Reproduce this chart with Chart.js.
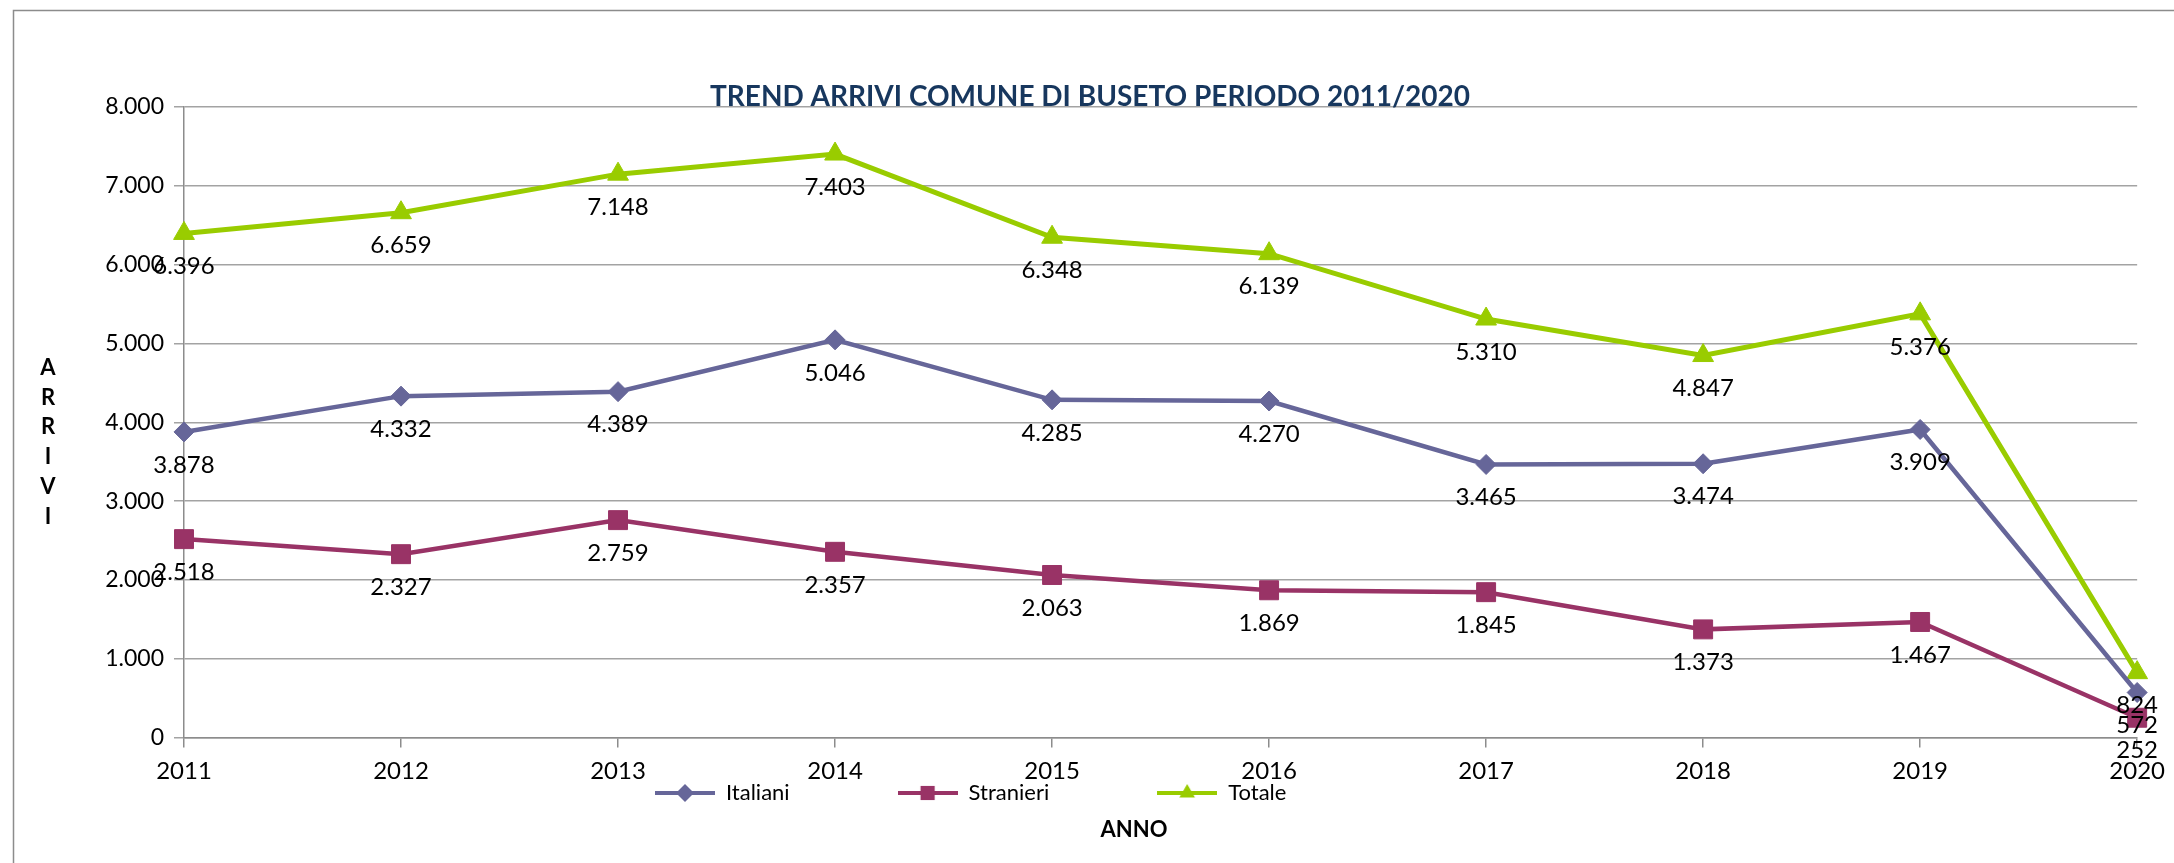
<!DOCTYPE html>
<html>
<head>
<meta charset="utf-8">
<title>Trend arrivi Buseto</title>
<script src="https://cdn.jsdelivr.net/npm/chart.js@4/dist/chart.umd.min.js"></script>
<style>
  html, body { margin: 0; padding: 0; background: #fff; }
  #wrap { width: 2174px; height: 863px; position: relative; }
</style>
</head>
<body>
<div id="wrap"><canvas id="myChart"></canvas></div>
<script>
// dati
var anni = ['2011', '2012', '2013', '2014', '2015', '2016', '2017', '2018', '2019', '2020'];
var italiani = [3878, 4332, 4389, 5046, 4285, 4270, 3465, 3474, 3909, 572];
var stranieri = [2518, 2327, 2759, 2357, 2063, 1869, 1845, 1373, 1467, 252];
var totale = [6396, 6659, 7148, 7403, 6348, 6139, 5310, 4847, 5376, 824];
var yMin = 0, yMax = 8000, yStep = 1000;

var titolo = 'TREND ARRIVI COMUNE DI BUSETO PERIODO 2011/2020';
var titoloX = 'ANNO';
var titoloY = 'ARRIVI';

var grigio = '#8c8c8c';

// 1000 -> "1.000"
function puntini(n) {
  return String(n).replace(/\B(?=(\d{3})+(?!\d))/g, '.');
}

// icona legenda: linea con il marcatore in mezzo
function iconaLegenda(colore, stile, r) {
  var c = document.createElement('canvas');
  c.width = 60; c.height = 22;
  var g = c.getContext('2d');
  g.strokeStyle = colore;
  g.lineWidth = 4;
  g.beginPath(); g.moveTo(0, 11); g.lineTo(60, 11); g.stroke();
  g.fillStyle = colore;
  Chart.helpers.drawPoint(g, {pointStyle: stile, radius: r, rotation: 0, borderWidth: 0}, 30, 11);
  return c;
}

var icone = [
  iconaLegenda('#666699', 'rectRot', 9),
  iconaLegenda('#993366', 'rect', 10),
  iconaLegenda('#99CC00', 'triangle', 9)
];

// etichette dei valori sotto ai punti
var etichette = {
  id: 'etichette',
  afterDatasetsDraw: function(chart) {
    var ctx = chart.ctx;
    ctx.save();
    ctx.font = '24px Lato';
    ctx.fillStyle = '#000';
    ctx.textAlign = 'center';
    ctx.textBaseline = 'middle';
    chart.data.datasets.forEach(function(ds, i) {
      chart.getDatasetMeta(i).data.forEach(function(pt, j) {
        ctx.fillText(puntini(ds.data[j]), pt.x, pt.y + 33);
      });
    });
    ctx.restore();
  }
};

// cornice, titolo asse y verticale e posizione di titolo / legenda / ANNO
var cornice = {
  id: 'cornice',
  afterLayout: function(chart) {
    var t = chart.titleBlock;
    if (t) { t.left = 1090 - 900; t.right = 1090 + 900; }
    var lg = chart.legend;
    if (lg) {
      lg.left = 655 - 108;
      lg.right = 2174;
      lg.top = 793 - 108 - 11;
      lg.bottom = 825;
    }
    var sub = chart.boxes.find(function(b) { return b !== t && b.options && b.options.text === titoloX; });
    if (sub) {
      var sh = sub.height;
      sub.left = 1134 - 500; sub.right = 1134 + 500;
      sub.top = 829 - 12.6; sub.bottom = sub.top + sh;
    }
  },
  beforeDraw: function(chart) {
    var ctx = chart.ctx;
    ctx.save();
    ctx.strokeStyle = grigio;
    ctx.lineWidth = 1.5;
    ctx.beginPath();
    ctx.moveTo(13.5, chart.height);
    ctx.lineTo(13.5, 10.5);
    ctx.lineTo(chart.width, 10.5);
    ctx.stroke();
    ctx.restore();
  },
  afterDraw: function(chart) {
    var ctx = chart.ctx;
    ctx.save();
    ctx.font = 'bold 22px Lato';
    ctx.fillStyle = '#000';
    ctx.textAlign = 'center';
    ctx.textBaseline = 'middle';
    titoloY.split('').forEach(function(l, i) {
      ctx.fillText(l, 48, 368 + i * 29.7);
    });
    ctx.restore();
  }
};

Chart.defaults.font.family = 'Lato';
Chart.defaults.color = '#000';

var ctx = document.getElementById('myChart').getContext('2d');
var myChart = new Chart(ctx, {
  type: 'line',
  data: {
    labels: anni,
    datasets: [{
      label: 'Italiani',
      data: italiani,
      borderColor: '#666699',
      backgroundColor: '#666699',
      borderWidth: 4.5,
      pointStyle: 'rectRot',
      pointRadius: 10,
      pointBorderWidth: 1,
      tension: 0
    }, {
      label: 'Stranieri',
      data: stranieri,
      borderColor: '#993366',
      backgroundColor: '#993366',
      borderWidth: 4.5,
      pointStyle: 'rect',
      pointRadius: 13.4,
      pointBorderWidth: 1,
      tension: 0
    }, {
      label: 'Totale',
      data: totale,
      borderColor: '#99CC00',
      backgroundColor: '#99CC00',
      borderWidth: 5,
      pointStyle: 'triangle',
      pointRadius: 12,
      pointBorderWidth: 1,
      tension: 0
    }]
  },
  options: {
    responsive: true,
    maintainAspectRatio: false,
    animation: false,
    events: [],
    layout: { padding: { left: 0, right: 35, top: 0, bottom: 0 } },
    scales: {
      x: {
        offset: false,
        afterFit: function(scale) { scale.height = 48; },
        grid: { drawOnChartArea: false, tickLength: 10, color: grigio, lineWidth: 1.5 },
        border: { color: grigio, width: 1.5 },
        ticks: { font: { size: 24 }, color: '#000', padding: 9, autoSkip: false, maxRotation: 0 }
      },
      y: {
        min: yMin,
        max: yMax,
        afterFit: function(scale) { scale.width = 184; },
        grid: { color: '#a3a3a3', lineWidth: 1.5, tickLength: 10 },
        border: { color: grigio, width: 1.5 },
        ticks: {
          stepSize: yStep,
          font: { size: 23 },
          color: '#000',
          padding: 10,
          callback: function(v) { return puntini(v); }
        }
      }
    },
    plugins: {
      tooltip: { enabled: false },
      title: {
        display: true,
        text: titolo,
        color: '#17375e',
        font: { size: 28, weight: 'bold' },
        padding: { top: 80, bottom: -6.6 }
      },
      subtitle: {
        display: true,
        position: 'bottom',
        text: titoloX,
        color: '#000',
        font: { size: 22, weight: 'bold' },
        padding: { top: 0, bottom: 21 }
      },
      legend: {
        position: 'bottom',
        align: 'start',
        maxHeight: 30,
        labels: {
          usePointStyle: true,
          pointStyleWidth: 60,
          padding: 108,
          color: '#000',
          font: { size: 22 },
          generateLabels: function(chart) {
            var items = Chart.defaults.plugins.legend.labels.generateLabels(chart);
            items.forEach(function(it, i) { it.pointStyle = icone[i]; });
            return items;
          }
        }
      }
    }
  },
  plugins: [etichette, cornice]
});
</script>
</body>
</html>
